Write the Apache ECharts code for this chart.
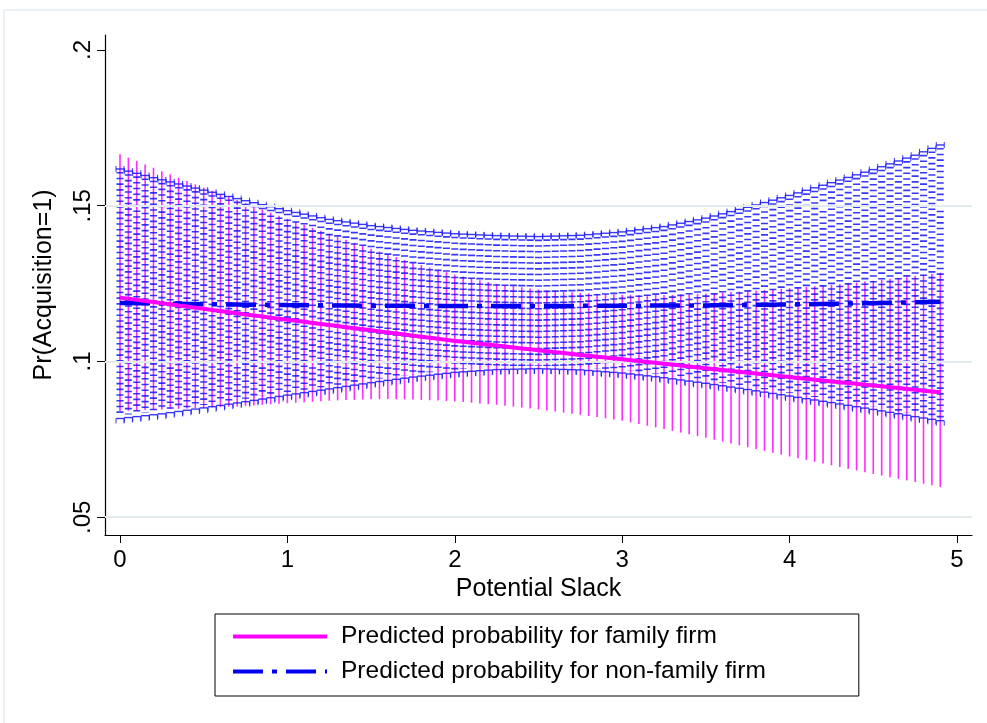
<!DOCTYPE html>
<html>
<head>
<meta charset="utf-8">
<script src="https://cdn.jsdelivr.net/npm/echarts@6/dist/echarts.min.js"></script>
<style>
html, body { margin: 0; padding: 0; background: #fff; }
#chart { width: 987px; height: 723px; }
</style>
</head>
<body>
<div id="chart"></div>
<script>
// potential slack values (x)
var xs = [0,0.05,0.1,0.15,0.2,0.25,0.3,0.35,0.4,0.45,0.5,0.55,0.6,0.65,0.7,0.75,0.8,0.85,0.9,0.95,
  1,1.05,1.1,1.15,1.2,1.25,1.3,1.35,1.4,1.45,1.5,1.55,1.6,1.65,1.7,1.75,1.8,1.85,1.9,1.95,
  2,2.05,2.1,2.15,2.2,2.25,2.3,2.35,2.4,2.45,2.5,2.55,2.6,2.65,2.7,2.75,2.8,2.85,2.9,2.95,
  3,3.05,3.1,3.15,3.2,3.25,3.3,3.35,3.4,3.45,3.5,3.55,3.6,3.65,3.7,3.75,3.8,3.85,3.9,3.95,
  4,4.05,4.1,4.15,4.2,4.25,4.3,4.35,4.4,4.45,4.5,4.55,4.6,4.65,4.7,4.75,4.8,4.85,4.9];

// family firm: predicted probability and CI bounds
var familyFit = [.12050,.12014,.11978,.11942,.11906,.11870,.11834,.11798,.11762,.11726,
  .11690,.11654,.11618,.11582,.11546,.11510,.11476,.11442,.11408,.11374,
  .11340,.11306,.11272,.11238,.11204,.11170,.11136,.11102,.11068,.11034,
  .11000,.10966,.10932,.10898,.10864,.10830,.10796,.10762,.10728,.10694,
  .10660,.10630,.10600,.10570,.10540,.10510,.10480,.10450,.10420,.10390,
  .10360,.10330,.10300,.10270,.10240,.10210,.10182,.10154,.10126,.10098,
  .10070,.10042,.10014,.09986,.09958,.09930,.09900,.09870,.09840,.09810,
  .09780,.09752,.09724,.09696,.09668,.09640,.09612,.09584,.09556,.09528,
  .09500,.09472,.09444,.09416,.09388,.09360,.09334,.09308,.09282,.09256,
  .09230,.09202,.09174,.09146,.09118,.09090,.09063,.09037,.09010];
var familyLo = [.0841,.0842,.0843,.0844,.0845,.0846,.0847,.0848,.0849,.0850,
  .0851,.08522,.08534,.08546,.08558,.0857,.08588,.08606,.08624,.08642,
  .0866,.08676,.08692,.08708,.08724,.0874,.0875,.0876,.0877,.0878,
  .0879,.08792,.08792,.0879,.08786,.0878,.08768,.08756,.08744,.08732,
  .0872,.08698,.08676,.08654,.08632,.0861,.0858,.0855,.0852,.0849,
  .0846,.08426,.08392,.08358,.08324,.0829,.08252,.08214,.08176,.08138,
  .0810,.08046,.07992,.07938,.07884,.0783,.07774,.07718,.07662,.07606,
  .0755,.0749,.0743,.0737,.0731,.0725,.0719,.0713,.0707,.0701,
  .0695,.06894,.06838,.06782,.06726,.0667,.06614,.06558,.06502,.06446,
  .0639,.06338,.06286,.06234,.06182,.0613,.06077,.06023,.0597];
var familyHi = [.1665,.16542,.16434,.16326,.16218,.1611,.16004,.15898,.15792,.15686,
  .1558,.1548,.1538,.1528,.1518,.1508,.1498,.1488,.1478,.1468,
  .1458,.14484,.14388,.14292,.14196,.1410,.14004,.13908,.13812,.13716,
  .1362,.1353,.1344,.1335,.1326,.1317,.13094,.13018,.12942,.12866,
  .1279,.1273,.1267,.1261,.1255,.1249,.12454,.12418,.12382,.12346,
  .1231,.12288,.12266,.12244,.12222,.1220,.12188,.12176,.12164,.12152,
  .1214,.12138,.12136,.12134,.12132,.1213,.1214,.1215,.1216,.1217,
  .1218,.12196,.12212,.12228,.12244,.1226,.12278,.12296,.12314,.12332,
  .1235,.12372,.12394,.12416,.12438,.1246,.12486,.12512,.12538,.12564,
  .1259,.12622,.12654,.12686,.12718,.1275,.12783,.12817,.1285];

// non-family firm: predicted probability and CI bounds
var nonFamFit = [.1188,.11876,.11872,.11868,.11864,.1186,.11856,.11852,.11848,.11844,
  .1184,.11837,.11834,.11831,.11828,.11825,.11822,.11819,.11816,.11813,
  .1181,.11808,.11806,.11804,.11802,.1180,.11798,.11796,.11794,.11792,
  .1179,.11789,.11788,.11787,.11786,.11785,.11784,.11783,.11782,.11781,
  .1178,.1178,.1178,.1178,.1178,.1178,.1178,.1178,.1178,.1178,
  .1178,.11781,.11782,.11783,.11784,.11785,.11786,.11787,.11788,.11789,
  .1179,.11791,.11792,.11793,.11794,.11795,.11796,.11797,.11798,.11799,
  .1180,.11803,.11806,.11809,.11812,.11815,.11818,.11821,.11824,.11827,
  .1183,.11834,.11838,.11842,.11846,.1185,.11854,.11858,.11862,.11866,
  .1187,.11876,.11882,.11888,.11894,.1190,.11907,.11913,.1192];
var nonFamLo = [.0817,.0820,.0823,.0826,.0829,.0832,.08358,.08396,.08434,.08472,
  .0851,.0855,.0859,.0863,.0867,.0871,.08752,.08794,.08836,.08878,
  .0892,.0896,.0900,.0904,.0908,.0912,.0916,.0920,.0924,.0928,
  .0932,.09356,.09392,.09428,.09464,.0950,.0953,.0956,.0959,.0962,
  .0965,.09668,.09686,.09704,.09722,.0974,.09746,.09752,.09758,.09764,
  .0977,.09762,.09754,.09746,.09738,.0973,.0971,.0969,.0967,.0965,
  .0963,.0960,.0957,.0954,.0951,.0948,.09444,.09408,.09372,.09336,
  .0930,.0926,.0922,.0918,.0914,.0910,.09058,.09016,.08974,.08932,
  .0889,.08848,.08806,.08764,.08722,.0868,.08636,.08592,.08548,.08504,
  .0846,.08414,.08368,.08322,.08276,.0823,.08187,.08143,.0810];
var nonFamHi = [.1618,.1611,.1604,.1597,.1590,.1583,.15764,.15698,.15632,.15566,
  .1550,.15432,.15364,.15296,.15228,.1516,.15096,.15032,.14968,.14904,
  .1484,.14784,.14728,.14672,.14616,.1456,.1452,.1448,.1444,.1440,
  .1436,.1433,.1430,.1427,.1424,.1421,.14188,.14166,.14144,.14122,
  .1410,.14088,.14076,.14064,.14052,.1404,.14034,.14028,.14022,.14016,
  .1401,.14018,.14026,.14034,.14042,.1405,.14072,.14094,.14116,.14138,
  .1416,.14194,.14228,.14262,.14296,.1433,.14384,.14438,.14492,.14546,
  .1460,.1467,.1474,.1481,.1488,.1495,.15026,.15102,.15178,.15254,
  .1533,.15412,.15494,.15576,.15658,.1574,.15824,.15908,.15992,.16076,
  .1616,.16252,.16344,.16436,.16528,.1662,.1673,.1684,.1695];

var xTicks = [0, 1, 2, 3, 4, 5];
var yTicks = [0.05, 0.1, 0.15, 0.2];
var gridValues = [0.05, 0.1, 0.15];

var nameFamily = 'Predicted probability for family firm';
var nameNonFam = 'Predicted probability for non-family firm';
var font = 'Liberation Sans, Arial, sans-serif';

function pairs(ys) {
    return xs.map(function (x, i) { return [x, ys[i]]; });
}
function bands(lo, hi) {
    return xs.map(function (x, i) { return [x, lo[i], hi[i]]; });
}

// magenta spikes, solid, no caps
function renderFamily(params, api) {
    var x = api.value(0);
    var top = api.coord([x, api.value(2)]);
    var bot = api.coord([x, api.value(1)]);
    return {
        type: 'line',
        shape: { x1: top[0], y1: top[1], x2: bot[0], y2: bot[1] },
        style: { stroke: '#ff2cff', lineWidth: 1.6 }
    };
}

// blue dashed capped spikes
function renderNonFam(params, api) {
    var x = api.value(0);
    var top = api.coord([x, api.value(2)]);
    var bot = api.coord([x, api.value(1)]);
    var c = 'rgba(20,20,255,0.85)';
    var w = 4;
    return {
        type: 'group',
        children: [
            { type: 'line', shape: { x1: top[0], y1: top[1] + 3, x2: bot[0], y2: bot[1] - 3 },
              style: { stroke: c, lineWidth: 7, lineDash: [1.6, 4.1] } },
            { type: 'line', shape: { x1: top[0] - w, y1: top[1], x2: top[0] + w, y2: top[1] },
              style: { stroke: c, lineWidth: 1.4 } },
            { type: 'line', shape: { x1: top[0] - w, y1: top[1] - 3, x2: top[0] - w, y2: top[1] + 3 },
              style: { stroke: c, lineWidth: 1 } },
            { type: 'line', shape: { x1: top[0] + w, y1: top[1] - 3, x2: top[0] + w, y2: top[1] + 3 },
              style: { stroke: c, lineWidth: 1 } },
            { type: 'line', shape: { x1: bot[0] - w, y1: bot[1], x2: bot[0] + w, y2: bot[1] },
              style: { stroke: c, lineWidth: 1.4 } },
            { type: 'line', shape: { x1: bot[0] - w, y1: bot[1], x2: bot[0] - w, y2: bot[1] + 5 },
              style: { stroke: c, lineWidth: 1 } },
            { type: 'line', shape: { x1: bot[0] + w, y1: bot[1], x2: bot[0] + w, y2: bot[1] + 5 },
              style: { stroke: c, lineWidth: 1 } }
        ]
    };
}

var myChart = echarts.init(document.getElementById('chart'));
var option = {
    animation: false,
    backgroundColor: '#fff',
    graphic: [{
        type: 'rect',
        shape: { x: 4, y: 10, width: 992, height: 730 },
        style: { fill: 'none', stroke: '#e4edf2', lineWidth: 1.5 },
        silent: true
    }],
    grid: { left: 105, right: 15, top: 35, bottom: 188 },
    xAxis: {
        type: 'value',
        min: -0.0896,
        max: 5.0896,
        name: 'Potential Slack',
        nameLocation: 'middle',
        nameGap: 40,
        nameTextStyle: { fontSize: 25, fontFamily: font, color: '#000' },
        axisLine: { show: true, onZero: false, lineStyle: { color: '#000', width: 1.2 } },
        axisTick: { show: true, length: 8, customValues: xTicks, lineStyle: { color: '#000' } },
        axisLabel: { customValues: xTicks, margin: 13, fontSize: 24, fontFamily: font, color: '#000' },
        splitLine: { show: false }
    },
    yAxis: {
        type: 'value',
        min: 0.0443,
        max: 0.2048,
        name: 'Pr(Acquisition=1)',
        nameLocation: 'middle',
        nameRotate: 90,
        nameGap: 48,
        nameTextStyle: { fontSize: 25, fontFamily: font, color: '#000' },
        axisLine: { show: true, onZero: false, lineStyle: { color: '#000', width: 1.2 } },
        axisTick: { show: true, length: 8, customValues: yTicks, lineStyle: { color: '#000' } },
        axisLabel: {
            customValues: yTicks,
            rotate: 90,
            margin: 10,
            fontSize: 24,
            fontFamily: font,
            color: '#000',
            formatter: function (v) { return String(v).replace(/^0/, ''); }
        },
        splitLine: { show: false }
    },
    legend: {
        orient: 'vertical',
        left: 215,
        top: 614,
        itemWidth: 94,
        itemHeight: 14,
        itemGap: 8,
        padding: [9, 93, 11, 16],
        borderColor: '#000',
        borderWidth: 1,
        lineStyle: { width: 4 },
        itemStyle: { opacity: 0 },
        textStyle: { fontSize: 24.5, fontFamily: font, color: '#000', lineHeight: 27, padding: [0, 0, 0, 9] },
        data: [nameFamily, nameNonFam]
    },
    series: [
        {
            name: 'grid',
            type: 'line',
            data: [],
            z: 1,
            silent: true,
            markLine: {
                silent: true,
                symbol: ['none', 'none'],
                label: { show: false },
                lineStyle: { color: '#e2ebed', width: 2, type: 'solid' },
                data: gridValues.map(function (v) { return { yAxis: v }; })
            }
        },
        {
            name: 'family CI',
            type: 'custom',
            renderItem: renderFamily,
            data: bands(familyLo, familyHi),
            z: 2
        },
        {
            name: 'non-family CI',
            type: 'custom',
            renderItem: renderNonFam,
            data: bands(nonFamLo, nonFamHi),
            z: 3
        },
        {
            name: nameNonFam,
            type: 'line',
            data: pairs(nonFamFit),
            symbol: 'none',
            z: 4,
            lineStyle: { color: '#0000f0', width: 4.5, type: [30, 9, 5, 9] },
            itemStyle: { color: '#0000f0' }
        },
        {
            name: nameFamily,
            type: 'line',
            data: pairs(familyFit),
            symbol: 'none',
            z: 5,
            lineStyle: { color: '#ff00ff', width: 4 },
            itemStyle: { color: '#ff00ff' }
        }
    ]
};
myChart.setOption(option);
window.addEventListener('resize', function () {
    myChart.resize();
});
</script>
</body>
</html>
